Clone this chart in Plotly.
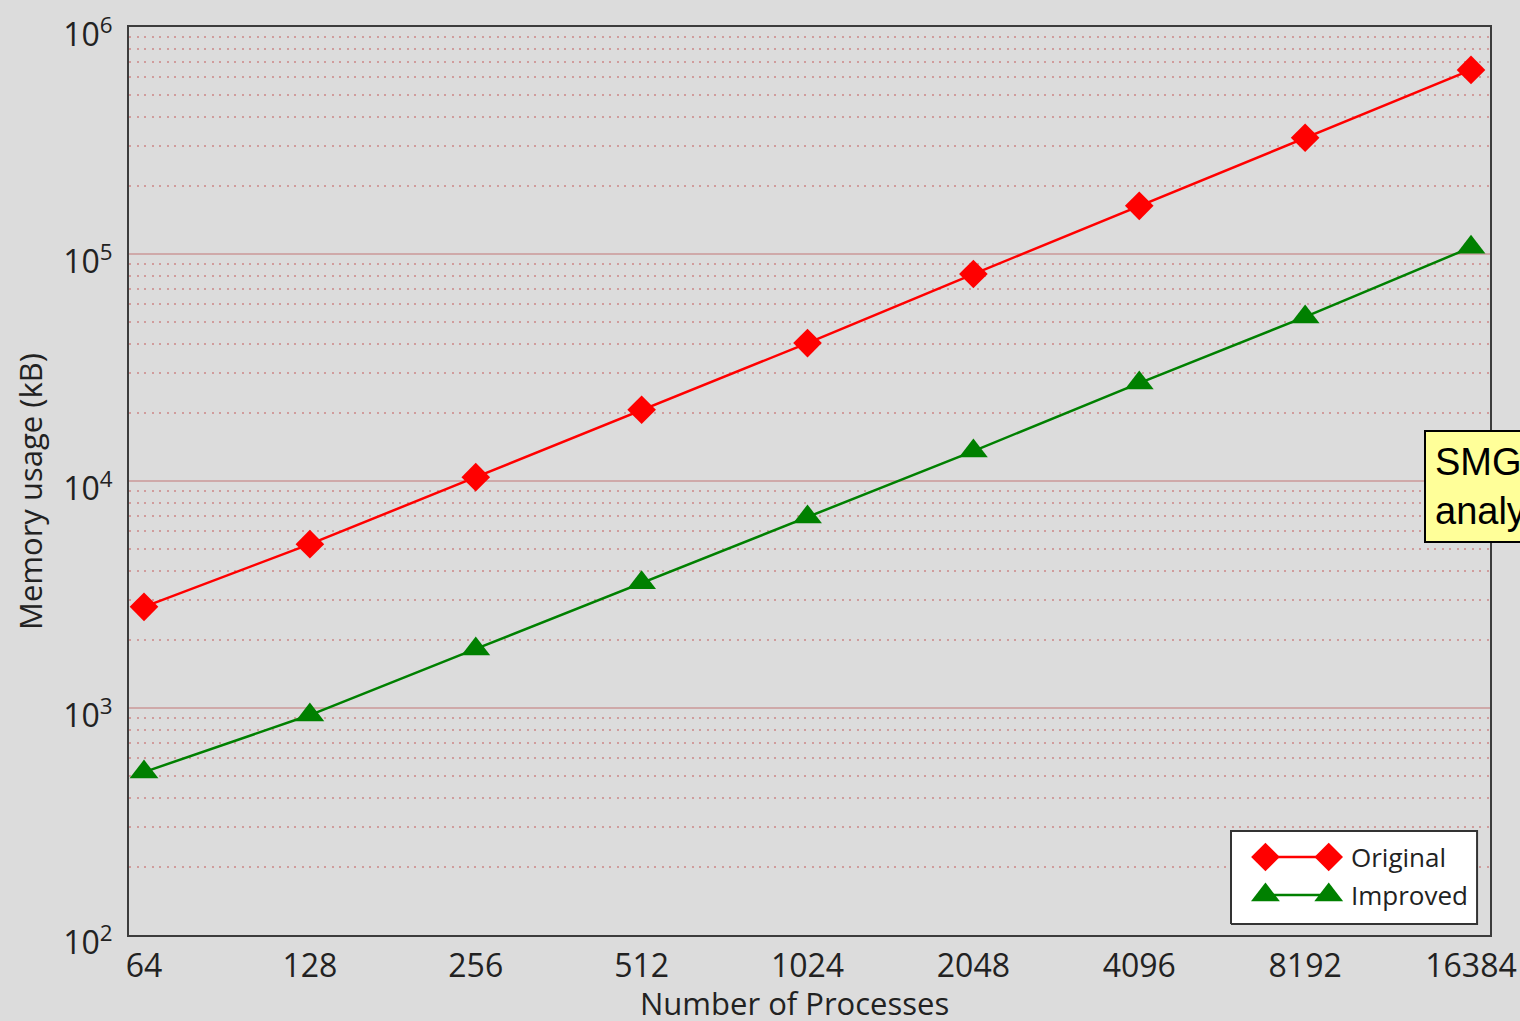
import math
import plotly.graph_objects as go

# Memory usage versus number of processes
processes = [64, 128, 256, 512, 1024, 2048, 4096, 8192, 16384]
original_kb = [2790, 5270, 10400, 20600, 40500, 81600, 163000, 325000, 647000]
improved_kb = [522, 931, 1820, 3560, 6940, 13550, 27000, 52800, 107000]

y_major = [1e2, 1e3, 1e4, 1e5, 1e6]
y_major_text = ["10<sup>2</sup>", "10<sup>3</sup>", "10<sup>4</sup>", "10<sup>5</sup>", "10<sup>6</sup>"]
y_minor = [m * 10 ** e for e in range(2, 6) for m in range(2, 10)]

series_names = ["Original", "Improved"]

FONT = "Open Sans"
TEXT = "#222222"
BG = "#dcdcdc"
RED = "#ff0000"
GREEN = "#008000"

fig = go.Figure()

fig.add_trace(go.Scatter(
    x=processes, y=original_kb, mode="lines+markers", name=series_names[0],
    line=dict(color=RED, width=2.5),
    marker=dict(symbol="diamond", size=22, color=RED),
    showlegend=False, cliponaxis=False,
))
fig.add_trace(go.Scatter(
    x=processes, y=improved_kb, mode="lines+markers", name=series_names[1],
    line=dict(color=GREEN, width=2.5),
    marker=dict(symbol="triangle-up", size=25, color=GREEN),
    showlegend=False, cliponaxis=False,
))

# Legend drawn on an overlay axis spanning the plot area in [0, 1] units
box_x = [0.8097, 0.9905, 0.9905, 0.8097, 0.8097]
box_y = [0.0121, 0.0121, 0.1145, 0.1145, 0.0121]
fig.add_trace(go.Scatter(
    x=box_x, y=box_y, mode="lines", fill="toself", fillcolor="white",
    line=dict(color="#333333", width=2),
    xaxis="x2", yaxis="y2", showlegend=False, hoverinfo="skip",
))

leg_x = [0.8350, 0.8815]
leg_rows = [0.0859, 0.0440]
leg_styles = [("diamond", 22, RED), ("triangle-up", 25, GREEN)]
for name, yrow, (sym, sz, col) in zip(series_names, leg_rows, leg_styles):
    fig.add_trace(go.Scatter(
        x=leg_x, y=[yrow, yrow], mode="lines+markers",
        line=dict(color=col, width=2.5),
        marker=dict(symbol=sym, size=sz, color=col),
        xaxis="x2", yaxis="y2", showlegend=False, hoverinfo="skip",
    ))
    fig.add_annotation(
        x=0.8964, y=yrow, xref="x2", yref="y2", text=name, showarrow=False,
        xanchor="left", yanchor="middle", font=dict(family=FONT, size=26, color=TEXT),
    )

lx0 = math.log10(64) - 0.0904 * math.log10(2)
lx1 = math.log10(16384) + 0.1145 * math.log10(2)

fig.update_layout(
    width=1520, height=1021,
    margin=dict(l=129, r=30, t=27, b=86),
    paper_bgcolor=BG, plot_bgcolor=BG,
    font=dict(family=FONT, color=TEXT),
    xaxis=dict(
        type="log", range=[lx0, lx1], automargin=False,
        tickmode="array", tickvals=processes, ticktext=[str(p) for p in processes],
        tickfont=dict(size=32, color=TEXT, family=FONT),
        showgrid=False, zeroline=False,
        showline=True, linecolor="#3c3c3c", linewidth=2, mirror=True,
        ticks="", ticklabelstandoff=2,
    ),
    yaxis=dict(
        type="log", range=[2, 6], automargin=False,
        tickmode="array", tickvals=y_major, ticktext=y_major_text,
        tickfont=dict(size=32, color=TEXT, family=FONT),
        showgrid=True, gridcolor="#cfa9a9", gridwidth=2,
        zeroline=False,
        showline=True, linecolor="#3c3c3c", linewidth=2, mirror=True,
        ticks="", ticklabelstandoff=8, ticklabelshift=8,
        minor=dict(tickvals=y_minor, showgrid=True, gridcolor="#d09c9c",
                   gridwidth=1.5, griddash="2px,5.5px", ticks=""),
    ),
    xaxis2=dict(overlaying="x", range=[0, 1], visible=False, automargin=False),
    yaxis2=dict(overlaying="y", range=[0, 1], visible=False, automargin=False),
)

# Axis titles
fig.add_annotation(
    x=0.489, y=-0.0749, xref="paper", yref="paper", text="Number of Processes",
    showarrow=False, xanchor="center", yanchor="middle",
    font=dict(family=FONT, size=31, color=TEXT),
)
fig.add_annotation(
    x=-0.0727, y=0.488, xref="paper", yref="paper", text="Memory usage (kB)",
    showarrow=False, xanchor="center", yanchor="middle", textangle=-90,
    font=dict(family=FONT, size=31, color=TEXT),
)

# Callout box at the right edge
fig.add_annotation(
    x=0.9515, y=0.4934, xref="paper", yref="paper",
    text="SMG2000<br>analysis", showarrow=False, align="left",
    xanchor="left", yanchor="middle",
    font=dict(family="Liberation Sans", size=38, color="black"),
    bgcolor="#ffff99", bordercolor="black", borderwidth=2, borderpad=9,
)

fig.write_html("out.html")
